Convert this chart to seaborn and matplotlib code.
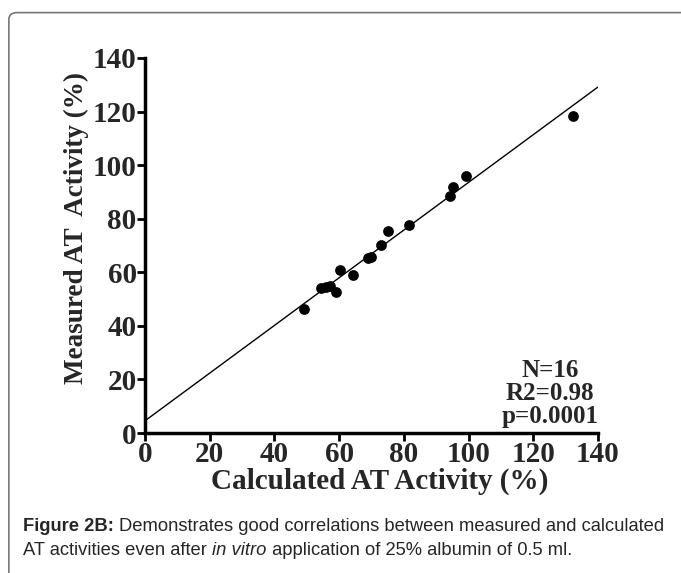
import matplotlib
matplotlib.use("Agg")
import matplotlib.pyplot as plt
import seaborn as sns
import pandas as pd
from matplotlib.patches import FancyBboxPatch

# --- DATA ---
calculated = [49, 54.3, 56, 57.2, 59, 60.2, 64.3, 69, 70, 73, 75, 81.5, 94.2, 95.2, 99.1, 132.4]
measured = [46.3, 54.2, 54.5, 55.0, 52.7, 61.0, 59.0, 65.3, 65.6, 70.3, 75.4, 77.6, 88.6, 91.7, 96.0, 118.4]
ticks = [0, 20, 40, 60, 80, 100, 120, 140]
stats_text = "N=16\nR2=0.98\np=0.0001"
caption_line1 = [("Figure 2B: ", "bold", "normal"),
                 ("Demonstrates good correlations between measured and calculated", "normal", "normal")]
caption_line2 = [("AT activities even after ", "normal", "normal"),
                 ("in vitro", "normal", "italic"),
                 (" application of 25% albumin of 0.5 ml.", "normal", "normal")]

df = pd.DataFrame({"Calculated": calculated, "Measured": measured})

sns.set_theme(style="ticks")
plt.rcParams["font.family"] = ["Liberation Serif", "DejaVu Serif"]

fig = plt.figure(figsize=(6.81, 5.73), dpi=100)

# outer frame of the figure panel
frame = FancyBboxPatch((0.013, -0.05), 1.05, 1.028, boxstyle="round,pad=0,rounding_size=0.012",
                       transform=fig.transFigure, fill=False, edgecolor="#777777", linewidth=1.2)
fig.patches.append(frame)

ax = fig.add_axes([0.213, 0.2443, 0.665, 0.6545])
ax.set_xlim(0, 140)
ax.set_ylim(0, 140)

# scatter + least squares line across the full x range
sns.regplot(data=df, x="Calculated", y="Measured", ax=ax, ci=None, truncate=False,
            scatter_kws={"s": 60, "color": "black", "linewidths": 0, "alpha": 1},
            line_kws={"color": "black", "linewidth": 1.0})
ax.set_xlim(0, 140)
ax.set_ylim(0, 140)

ax.set_xticks(ticks)
ax.set_yticks(ticks)
ax.set_xticklabels([str(t) for t in ticks], fontsize=21, fontweight="bold")
ax.set_yticklabels([str(t) for t in ticks], fontsize=21, fontweight="bold")
ax.tick_params(axis="both", direction="out", length=6, width=2, color="black", pad=0)
for side in ["left", "bottom"]:
    ax.spines[side].set_linewidth(2.5)
    ax.spines[side].set_color("black")
sns.despine(ax=ax)

ax.set_xlabel("Calculated AT Activity (%)", fontsize=21, fontweight="bold")
ax.xaxis.set_label_coords(0.519, -0.093, transform=ax.transAxes)
ax.xaxis.label.set_va("top")
ax.set_ylabel("Measured AT  Activity (%)", fontsize=19.5, fontweight="bold", labelpad=3)
ax.yaxis.label.set_y(0.547)

ax.text(0.894, 0.014, stats_text, transform=ax.transAxes, ha="center", va="bottom",
        multialignment="center", fontsize=18, fontweight="bold", linespacing=0.98)


def caption_line(runs, x, y):
    for txt, weight, style in runs:
        t = fig.text(x, y, txt, fontsize=13.2, fontweight=weight, style=style,
                     family=["Liberation Sans", "DejaVu Sans"])
        fig.canvas.draw()
        x = t.get_window_extent(fig.canvas.get_renderer()).x1 / fig.bbox.width


caption_line(caption_line1, 0.034, 0.073)
caption_line(caption_line2, 0.034, 0.031)

fig.savefig("out.png", dpi=100)
